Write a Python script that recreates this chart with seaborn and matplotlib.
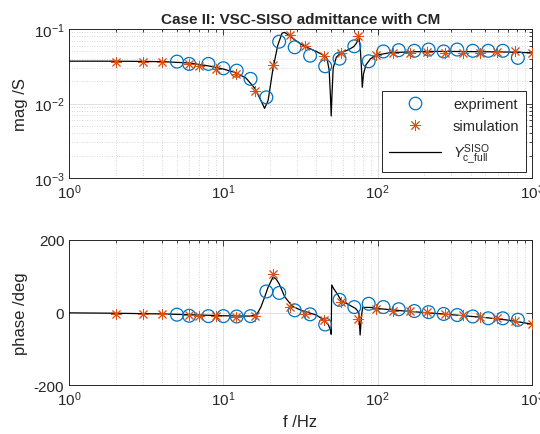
import numpy as np
import pandas as pd
import matplotlib
matplotlib.use("Agg")
import matplotlib.pyplot as plt
import seaborn as sns
from matplotlib.lines import Line2D

# === Data ===

# simulation points (orange asterisks)
f_sim = [2, 3, 4, 6, 7, 9, 12, 16, 21, 27, 34, 45, 58, 75, 97, 126, 163, 209,
         275, 356, 459, 595, 772, 1000]
mag_sim = [0.0365, 0.036, 0.036, 0.034, 0.0322, 0.029, 0.025, 0.0145, 0.033,
           0.083, 0.059, 0.043, 0.048, 0.081, 0.045, 0.047, 0.048, 0.0497,
           0.048, 0.048, 0.048, 0.049, 0.05, 0.047]
ph_sim = [-3, -3, -5, -7, -9, -10, -12, -10, 106, 14, -5, -21, 29, -19, 11,
          5, 3, 1, -5, -7, -12, -16, -23, -32]

# experiment points (blue circles)
f_exp = [5, 6, 8, 10, 12.2, 15, 19, 23, 29, 36.5, 45.7, 56.6, 70.6, 87.5, 109,
         137, 173, 214, 268, 328, 414, 521, 648, 811]
mag_exp = [0.0365, 0.034, 0.034, 0.0297, 0.0276, 0.0214, 0.0121, 0.0676,
           0.0568, 0.0439, 0.0316, 0.04, 0.0586, 0.0369, 0.05, 0.052, 0.051,
           0.053, 0.05, 0.053, 0.051, 0.051, 0.051, 0.041]
ph_exp = [-6, -9, -10, -10, -11, -10, 58, 54, 6, -5, -33, 35, 15, 24, 15, 9,
          4, 1, -4, -7, -11, -16, -16, -20]

# full model curve (black line)
f_mag_line = [1, 2, 4, 6, 8, 10, 12, 14, 16, 17.5, 18.5, 19.5, 21, 22.5, 24,
              25, 27, 30, 34, 40, 45, 47, 48.5, 49.5, 50, 50.5, 51.5, 54, 58,
              65, 70, 73, 75.5, 77, 78.5, 79.5, 81, 84, 90, 100, 120, 150,
              200, 300, 500, 700, 1000]
mag_line = [0.037, 0.037, 0.0365, 0.035, 0.032, 0.029, 0.026, 0.022, 0.016,
            0.011, 0.0086, 0.011, 0.03, 0.06, 0.088, 0.09, 0.08, 0.068,
            0.058, 0.05, 0.044, 0.04, 0.028, 0.012, 0.0068, 0.012, 0.03,
            0.042, 0.048, 0.053, 0.058, 0.065, 0.077, 0.06, 0.03, 0.0165,
            0.025, 0.033, 0.04, 0.045, 0.048, 0.049, 0.05, 0.05, 0.0495,
            0.049, 0.048]

f_ph_line = [1, 2, 4, 6, 10, 15, 16.5, 17.5, 18.5, 19.5, 21, 22, 23, 25, 28,
             32, 40, 45, 48, 49.5, 50, 50.4, 52, 55, 58, 66, 72, 75.5, 77,
             78.5, 80, 90, 100, 150, 200, 300, 500, 700, 1000]
ph_line = [-1, -2, -4, -6, -9, -10, -5, 15, 42, 70, 98, 92, 79, 43, 17, 6, -7,
           -21, -34, -50, -60, 76, 65, 50, 33, 20, 11, 0, -62, -10, 14, 14,
           11, 4, 0, -6, -14, -21, -32]

blue = "#0072BD"
orange = "#D95319"

sns.set_style("white")
plt.rcParams["font.family"] = ["Liberation Sans", "DejaVu Sans"]
plt.rcParams["mathtext.fontset"] = "custom"
plt.rcParams["mathtext.rm"] = "Liberation Sans"
plt.rcParams["mathtext.it"] = "Liberation Sans:italic"
plt.rcParams["axes.unicode_minus"] = False

fig = plt.figure(figsize=(5.4, 4.35), dpi=100)
ax1 = fig.add_axes([0.128, 0.5885, 0.857, 0.3425])
ax2 = fig.add_axes([0.128, 0.1126, 0.857, 0.3334])

star = (8, 2, 0)


def draw(ax, f_line, y_line, f_e, y_e, f_s, y_s):
    sns.lineplot(x=f_line, y=y_line, ax=ax, color="black", linewidth=0.9,
                 sort=False, zorder=3)
    sns.scatterplot(x=f_e, y=y_e, ax=ax, marker="o", s=85,
                    facecolors="none", edgecolor=blue, linewidth=0.9, zorder=4)
    sns.scatterplot(x=f_s, y=y_s, ax=ax, marker=star, s=55,
                    color=orange, edgecolor=orange, linewidth=0.7, zorder=5)
    ax.set_xscale("log")
    ax.set_xlim(1, 1000)
    ax.tick_params(which="both", direction="in", top=True, right=True,
                   labelsize=11, width=0.6)
    ax.tick_params(which="major", length=4)
    ax.tick_params(which="minor", length=2)
    for s in ax.spines.values():
        s.set_linewidth(0.7)
        s.set_color("#262626")
    ax.grid(True, which="major", color="#dcdcdc", linewidth=0.6, linestyle="-")


draw(ax1, f_mag_line, mag_line, f_exp, mag_exp, f_sim, mag_sim)
ax1.set_yscale("log")
ax1.set_ylim(1e-3, 1e-1)
ax1.grid(True, which="minor", color="#cccccc", linewidth=0.6,
         linestyle=(0, (1, 2)))
ax1.set_ylabel("mag /S", fontsize=12)
ax1.set_title("Case II: VSC-SISO admittance with CM", fontsize=11,
              fontweight="bold", pad=4)

draw(ax2, f_ph_line, ph_line, f_exp, ph_exp, f_sim, ph_sim)
ax2.set_ylim(-200, 200)
ax2.set_yticks([-200, 0, 200])
ax2.xaxis.grid(True, which="minor", color="#cccccc", linewidth=0.6,
               linestyle=(0, (1, 2)))
ax2.set_ylabel("phase /deg", fontsize=12)
ax2.set_xlabel("f /Hz", fontsize=12)

handles = [
    Line2D([], [], linestyle="", marker="o", markersize=9,
           markerfacecolor="none", markeredgecolor=blue, markeredgewidth=0.9),
    Line2D([], [], linestyle="", marker=star, markersize=8,
           color=orange, markeredgewidth=0.7),
    Line2D([], [], color="black", linewidth=0.9),
]
labels = ["expriment", "simulation", r"$Y^{\mathrm{SISO}}_{\mathrm{c\_full}}$"]
leg = ax1.legend(handles, labels, loc="lower right", fontsize=10.5,
                 frameon=True, fancybox=False, edgecolor="#262626",
                 framealpha=1, borderaxespad=0.4, handlelength=3.6,
                 labelspacing=0.55, borderpad=0.45)
leg.get_frame().set_linewidth(0.7)

fig.savefig("out.png", dpi=100)
